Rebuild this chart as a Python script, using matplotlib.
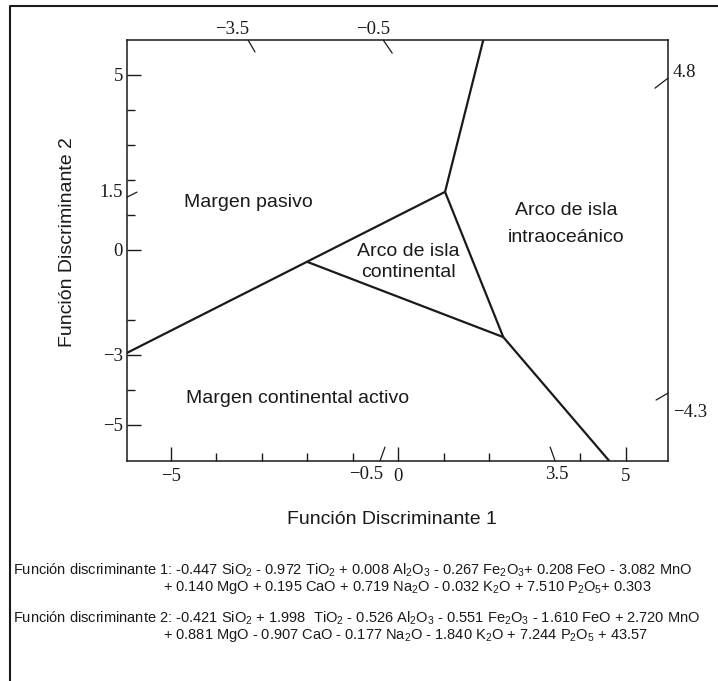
import matplotlib
matplotlib.use("Agg")
import matplotlib.pyplot as plt
from matplotlib.lines import Line2D

plt.rcParams['mathtext.fontset'] = 'custom'
plt.rcParams['mathtext.rm'] = 'Liberation Sans'
plt.rcParams['mathtext.it'] = 'Liberation Sans:italic'
plt.rcParams['mathtext.bf'] = 'Liberation Sans:bold'

W, H, DPI = 718, 681, 100
INK = '#1a1a1a'
SANS = 'Liberation Sans'
SERIF = 'Liberation Serif'

# ---------------- data ----------------
# field boundaries (Función Discriminante 1, Función Discriminante 2)
upper_x = [1.87, 1.03]
upper_y = [6.00, 1.66]
passive_x = [1.03, -5.96]
passive_y = [1.66, -2.94]
contarc_x = [-2.00, 2.31]
contarc_y = [-0.34, -2.49]
oceanarc_x = [1.03, 2.31]
oceanarc_y = [1.66, -2.49]
active_x = [2.31, 4.64]
active_y = [-2.49, -6.03]

xlim = (-5.96, 5.93)
ylim = (-6.03, 6.00)

x_major = [-5, 0, 5]
x_major_labels = ['\u22125', '0', '5']
x_minor = [-4, -3, -2, -1, 1, 2, 4]
y_major = [5, 0, -3, -5]
y_major_labels = ['5', '0', '\u22123', '\u22125']
y_minor = [4, 3, 2, 1, -2, -4]

# intercept marks (slanted ticks) and their labels
top_marks = [-3.30, -0.33]
top_mark_labels = ['\u22123.5', '\u22120.5']
top_label_x = [-3.65, -0.55]
bottom_marks = [-0.40, 3.45]
bottom_mark_labels = ['\u22120.5', '3.5']
bottom_label_x = [-0.70, 3.49]
left_marks = [1.51]
left_mark_labels = ['1.5']
left_label_y = [1.63]
right_marks = [4.91, -4.09]
right_mark_labels = ['4.8', '\u22124.3']
right_label_y = [5.06, -4.63]

region_labels = ['Margen pasivo', 'Arco de isla\ncontinental',
                 'Arco de isla\nintraoceánico', 'Margen continental activo']
region_x = [-3.30, 0.22, 3.69, -2.21]
region_y = [1.37, -0.34, 0.74, -4.23]
region_spacing = [1.0, 1.3, 1.75, 1.0]

xlabel = 'Función Discriminante 1'
ylabel = 'Función Discriminante 2'

formula1_a = ('Función discriminante 1: -0.447 SiO$_2$ - 0.972 TiO$_2$ + 0.008 Al$_2$O$_3$'
              ' - 0.267 Fe$_2$O$_3$+ 0.208 FeO - 3.082 MnO')
formula1_b = ('+ 0.140 MgO + 0.195 CaO + 0.719 Na$_2$O - 0.032 K$_2$O'
              ' + 7.510 P$_2$O$_5$+ 0.303')
formula2_a = ('Función discriminante 2: -0.421 SiO$_2$ + 1.998  TiO$_2$ - 0.526 Al$_2$O$_3$'
              ' - 0.551 Fe$_2$O$_3$ - 1.610 FeO + 2.720 MnO')
formula2_b = ('+ 0.881 MgO - 0.907 CaO - 0.177 Na$_2$O - 1.840 K$_2$O'
              ' + 7.244 P$_2$O$_5$ + 43.57')

# ---------------- figure ----------------
fig = plt.figure(figsize=(W / DPI, H / DPI), dpi=DPI)
fig.patch.set_facecolor('white')

def fx(px):
    return px / W

def fy(py):
    return 1 - py / H

ax = fig.add_axes([fx(127), fy(461), (668 - 127) / W, (461 - 40) / H])
ax.set_xlim(*xlim)
ax.set_ylim(*ylim)
for s in ax.spines.values():
    s.set_linewidth(1.1)
    s.set_color(INK)

for xs, ys in [(upper_x, upper_y), (passive_x, passive_y), (contarc_x, contarc_y),
               (oceanarc_x, oceanarc_y), (active_x, active_y)]:
    ax.plot(xs, ys, color=INK, lw=1.6, solid_capstyle='butt', clip_on=True)

TICKFS = 13.5

# regular ticks
ax.set_xticks(x_major)
ax.set_xticklabels(x_major_labels)
ax.set_xticks(x_minor, minor=True)
ax.set_yticks(y_major)
ax.set_yticklabels(y_major_labels)
ax.set_yticks(y_minor, minor=True)
ax.tick_params(which='both', direction='in', color=INK, width=1.0,
               top=False, right=False)
ax.tick_params(which='major', length=10)
ax.tick_params(which='minor', length=5.5)
ax.tick_params(axis='x', which='major', pad=5, labelsize=TICKFS)
ax.tick_params(axis='y', which='major', pad=3, labelsize=TICKFS)
for lab in ax.get_xticklabels() + ax.get_yticklabels():
    lab.set_fontfamily(SERIF)
    lab.set_color(INK)

def mark(xy, dxy):
    ax.annotate('', xy=xy, xycoords='data', xytext=dxy, textcoords='offset points',
                arrowprops=dict(arrowstyle='-', color=INK, lw=0.9,
                                shrinkA=0, shrinkB=0), annotation_clip=False)

top = ylim[1]
bot = ylim[0]
left = xlim[0]
right = xlim[1]
top_offsets = [(5, -8.6), (6.5, -9.4)]
for xv, off in zip(top_marks, top_offsets):
    mark((xv, top), off)
for lx, lab in zip(top_label_x, top_mark_labels):
    ax.annotate(lab, xy=(lx, top), xytext=(0, 7.5), textcoords='offset points',
                ha='center', va='center', fontsize=TICKFS, family=SERIF, color=INK,
                annotation_clip=False)
bottom_offsets = [(3.6, 10), (-3.6, 10)]
for xv, off in zip(bottom_marks, bottom_offsets):
    mark((xv, bot), off)
for lx, lab in zip(bottom_label_x, bottom_mark_labels):
    ax.annotate(lab, xy=(lx, bot), xytext=(0, -10), textcoords='offset points',
                ha='center', va='center', fontsize=TICKFS, family=SERIF, color=INK,
                annotation_clip=False)
for yv in left_marks:
    mark((left, yv), (7.2, 3.6))
for ly, lab in zip(left_label_y, left_mark_labels):
    ax.annotate(lab, xy=(left, ly), xytext=(-3, 0), textcoords='offset points',
                ha='right', va='center', fontsize=TICKFS, family=SERIF, color=INK,
                annotation_clip=False)
right_offsets = [(-9.4, -7.2), (-8.6, -5)]
for yv, off in zip(right_marks, right_offsets):
    mark((right, yv), off)
for ly, lab in zip(right_label_y, right_mark_labels):
    ax.annotate(lab, xy=(right, ly), xytext=(3.5, 0), textcoords='offset points',
                ha='left', va='center', fontsize=TICKFS, family=SERIF, color=INK,
                annotation_clip=False)

for lab, xv, yv, ls in zip(region_labels, region_x, region_y, region_spacing):
    ax.text(xv, yv, lab, ha='center', va='center', fontsize=14, family=SANS,
            color=INK, linespacing=ls, multialignment='center')

ax.set_xlabel(xlabel, fontsize=14, family=SANS, color=INK)
ax.set_ylabel(ylabel, fontsize=14, family=SANS, color=INK)
ax.xaxis.label.set_va('center')
ax.yaxis.label.set_va('center')
ax.xaxis.set_label_coords((392 - 127) / 541, (461 - 519) / 421)
ax.yaxis.set_label_coords((67 - 127) / 541, (461 - 242) / 421)

# formulas
ftxt = dict(fontsize=10.5, family=SANS, color=INK, ha='left', va='center')
fig.text(fx(13), fy(570), formula1_a, **ftxt)
fig.text(fx(163), fy(588), formula1_b, **ftxt)
fig.text(fx(13), fy(618), formula2_a, **ftxt)
fig.text(fx(163), fy(636), formula2_b, **ftxt)

# outer frame (top and left edges visible)
fig.add_artist(Line2D([fx(10), fx(10), fx(718)], [fy(681), fy(6), fy(6)],
                      transform=fig.transFigure, color=INK, lw=1.5))

fig.savefig('out.png', dpi=DPI, facecolor='white')
